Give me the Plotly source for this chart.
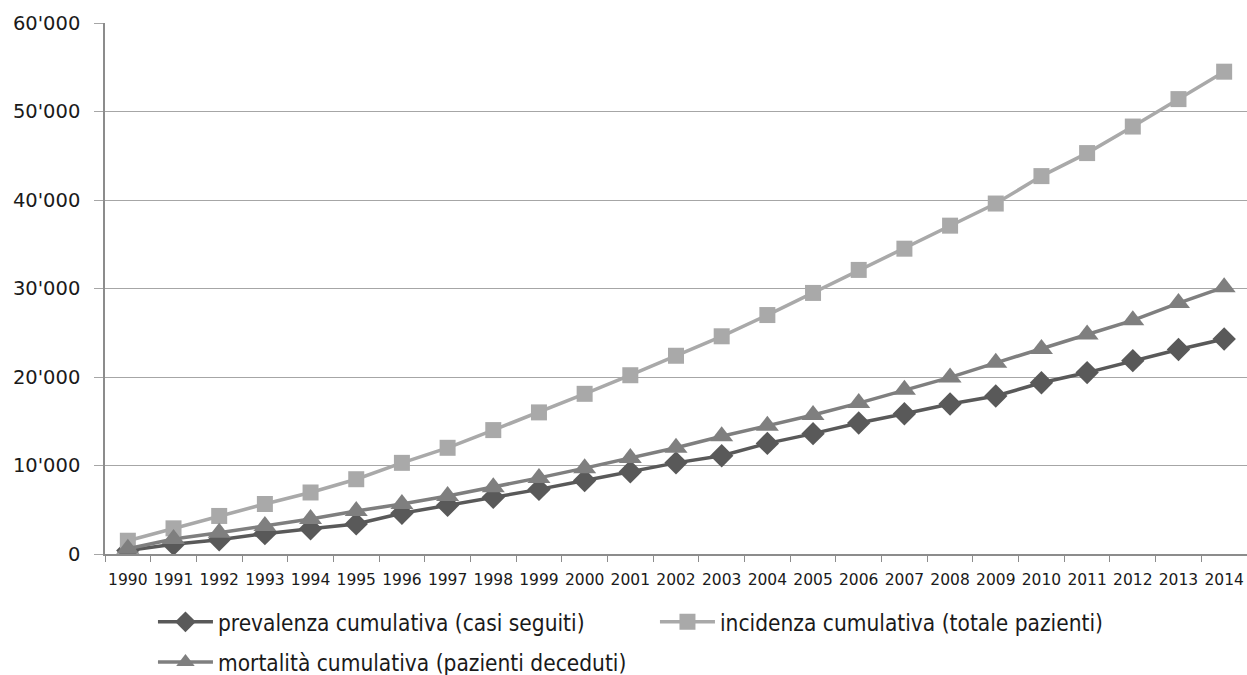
import plotly.graph_objects as go

years = [str(y) for y in range(1990, 2015)]

prevalenza = [400, 1100, 1600, 2300, 2850, 3400, 4600, 5500, 6400, 7300, 8300, 9300, 10300,
              11100, 12500, 13600, 14800, 15850, 16950, 17850, 19350, 20500, 21850, 23100, 24300]
incidenza = [1500, 2900, 4300, 5650, 6950, 8450, 10300, 12000, 14000, 16000, 18100, 20200, 22400,
             24600, 27000, 29500, 32100, 34500, 37100, 39600, 42700, 45300, 48300, 51400, 54500]
mortalita = [600, 1700, 2400, 3150, 3950, 4850, 5650, 6550, 7550, 8600, 9700, 10850, 12000,
             13300, 14500, 15700, 17050, 18550, 19950, 21600, 23150, 24800, 26400, 28350, 30150]

names = ["prevalenza cumulativa (casi seguiti)",
         "incidenza cumulativa (totale pazienti)",
         "mortalità cumulativa (pazienti deceduti)"]

font_leg = "DejaVu Sans Condensed, DejaVu Sans, sans-serif"
font_axis = "DejaVu Sans, sans-serif"

fig = go.Figure()
fig.add_trace(go.Scatter(x=years, y=prevalenza, name=names[0], mode="lines+markers",
                         legendgroup="a",
                         line=dict(color="#595959", width=3.5),
                         marker=dict(symbol="diamond", size=18, color="#595959")))
fig.add_trace(go.Scatter(x=years, y=incidenza, name=names[1], mode="lines+markers",
                         legendgroup="b",
                         line=dict(color="#a9a9a9", width=3.5),
                         marker=dict(symbol="square", size=16, color="#a9a9a9")))
fig.add_trace(go.Scatter(x=years, y=mortalita, name=names[2], mode="lines+markers",
                         legendgroup="c",
                         line=dict(color="#7f7f7f", width=3.5),
                         marker=dict(symbol="triangle-up", size=20, color="#7f7f7f")))

fig.update_layout(
    width=1247, height=675,
    margin=dict(l=105, r=0, t=23, b=121, autoexpand=False),
    paper_bgcolor="white", plot_bgcolor="white",
    separators=".'",
    font=dict(family=font_axis, color="#1a1a1a"),
    legend=dict(orientation="h", x=0.042, y=-0.088, xanchor="left", yanchor="top",
                font=dict(size=22.5, family=font_leg, color="#1a1a1a"),
                entrywidth=432, entrywidthmode="pixels", itemwidth=55,
                tracegroupgap=8, traceorder="grouped"),
    showlegend=True,
)
fig.update_xaxes(type="category", showline=True, linecolor="#8c8c8c", linewidth=1.5,
                 ticks="outside", tickson="boundaries", ticklen=6, tickcolor="#8c8c8c",
                 showgrid=False, tickfont=dict(size=15.5, family=font_axis, color="#1a1a1a"),
                 tickangle=0, range=[-0.5, 24.5], ticklabelstandoff=11)
fig.update_yaxes(range=[0, 60000], dtick=10000, tickformat=",d", showline=True,
                 linecolor="#8c8c8c", linewidth=1.5, showgrid=True, gridcolor="#a6a6a6",
                 gridwidth=1.2, ticks="outside", ticklen=9, tickcolor="#a6a6a6",
                 zeroline=False, tickfont=dict(size=19.5, family=font_axis, color="#1a1a1a"),
                 ticklabelstandoff=10)

fig.write_html("out.html", post_script="document.body.style.margin='0';",
               config={"displayModeBar": False})
